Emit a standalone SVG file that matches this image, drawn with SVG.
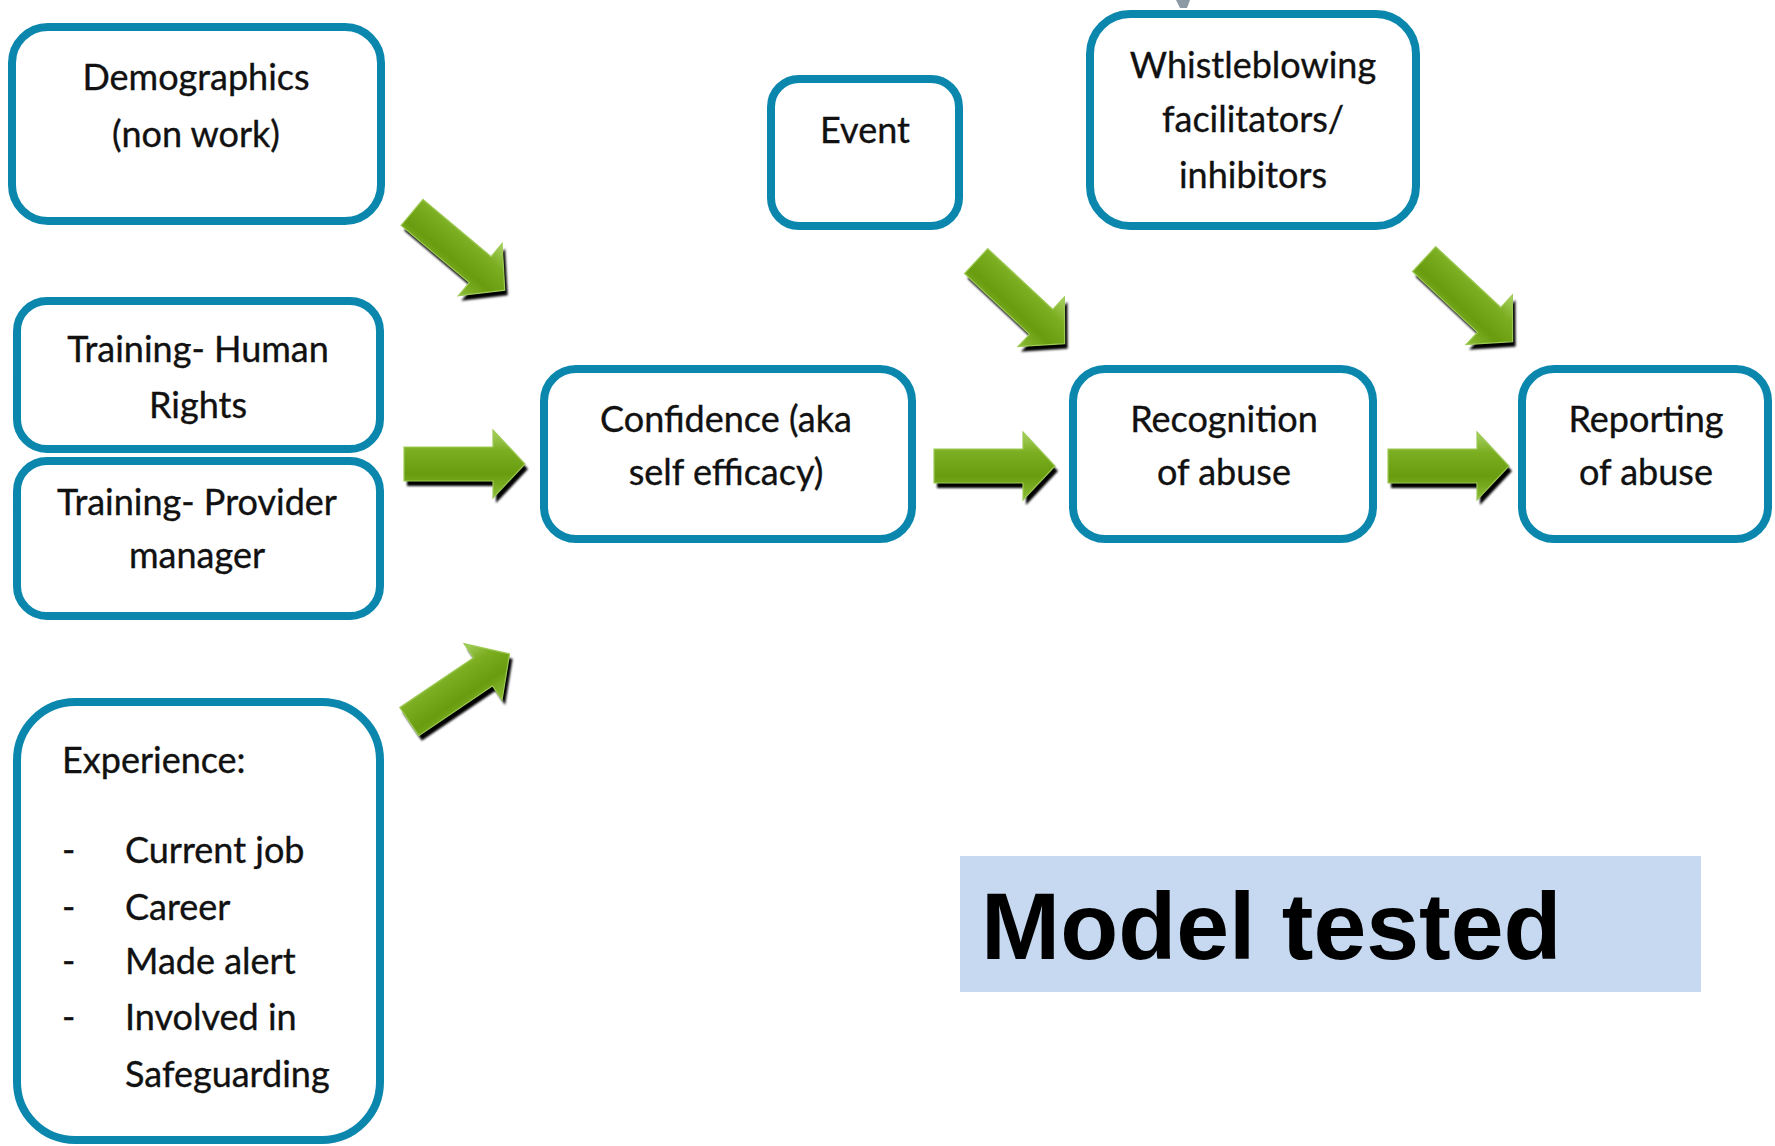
<svg xmlns="http://www.w3.org/2000/svg" xmlns:xlink="http://www.w3.org/1999/xlink" width="1775" height="1146" viewBox="0 0 1775 1146">
  <style>
    .box { fill: #ffffff; stroke: #0b87ae; stroke-width: 8; }
    .lbl { font-family: Lato, "Open Sans", sans-serif; font-size: 36px; fill: #111111; stroke: #111111; stroke-width: 0.35; text-anchor: middle; }
    .lbl-l { font-family: Lato, "Open Sans", sans-serif; font-size: 36px; fill: #111111; stroke: #111111; stroke-width: 0.35; }
    .title { font-family: "Liberation Sans", Arial, sans-serif; font-weight: bold; font-size: 95px; fill: #000000; }
  </style>
  <defs>
    <linearGradient id="greenFill" x1="0" y1="0" x2="0" y2="1">
      <stop offset="0" stop-color="#a9d263"/>
      <stop offset="0.3" stop-color="#7cae22"/>
      <stop offset="0.65" stop-color="#6a9c0f"/>
      <stop offset="1" stop-color="#8cbd38"/>
    </linearGradient>
    <filter id="soft" x="-20%" y="-20%" width="140%" height="140%">
      <feGaussianBlur stdDeviation="1"/>
    </filter>
    <!-- block arrow pointing right, centred on the origin -->
    <polygon id="blockArrow" points="-60,-17 29,-17 29,-34 61,0 29,34 29,17 -60,17"/>
  </defs>

  <rect width="1775" height="1146" fill="#ffffff"/>

  <!-- small grey mark at the top edge -->
  <path d="M1176,0 L1190,0 L1187,8 L1180,8 Z" fill="#8d9aa6"/>

  <g id="connectors">
    <!-- Demographics -> Confidence -->
    <g transform="translate(461,256) rotate(40)"><use href="#blockArrow" fill="#000" filter="url(#soft)"/></g>
    <g transform="translate(458,251) rotate(40)"><use href="#blockArrow" fill="url(#greenFill)" stroke="#9dca55" stroke-width="1.2"/></g>
    <!-- Training -> Confidence -->
    <g transform="translate(467,469)"><use href="#blockArrow" fill="#000" filter="url(#soft)"/></g>
    <g transform="translate(464,464)"><use href="#blockArrow" fill="url(#greenFill)" stroke="#9dca55" stroke-width="1.2"/></g>
    <!-- Experience -> Confidence -->
    <g transform="translate(462,693) rotate(-34)"><use href="#blockArrow" fill="#000" filter="url(#soft)"/></g>
    <g transform="translate(459,688) rotate(-34)"><use href="#blockArrow" fill="url(#greenFill)" stroke="#9dca55" stroke-width="1.2"/></g>
    <!-- Confidence -> Recognition -->
    <g transform="translate(997,471)"><use href="#blockArrow" fill="#000" filter="url(#soft)"/></g>
    <g transform="translate(994,466)"><use href="#blockArrow" fill="url(#greenFill)" stroke="#9dca55" stroke-width="1.2"/></g>
    <!-- Event -> Recognition -->
    <g transform="translate(1023,307) rotate(43)"><use href="#blockArrow" fill="#000" filter="url(#soft)"/></g>
    <g transform="translate(1020,302) rotate(43)"><use href="#blockArrow" fill="url(#greenFill)" stroke="#9dca55" stroke-width="1.2"/></g>
    <!-- Recognition -> Reporting -->
    <g transform="translate(1451,471)"><use href="#blockArrow" fill="#000" filter="url(#soft)"/></g>
    <g transform="translate(1448,466)"><use href="#blockArrow" fill="url(#greenFill)" stroke="#9dca55" stroke-width="1.2"/></g>
    <!-- Whistleblowing -> Reporting -->
    <g transform="translate(1471,305) rotate(43)"><use href="#blockArrow" fill="#000" filter="url(#soft)"/></g>
    <g transform="translate(1468,300) rotate(43)"><use href="#blockArrow" fill="url(#greenFill)" stroke="#9dca55" stroke-width="1.2"/></g>
  </g>

  <g id="demographics">
    <rect class="box" x="12" y="27" width="369" height="194" rx="36"/>
    <text class="lbl" x="196" y="90">Demographics</text>
    <text class="lbl" x="196" y="147">(non work)</text>
  </g>

  <g id="training-human-rights">
    <rect class="box" x="17" y="301" width="363" height="148" rx="30"/>
    <text class="lbl" x="198" y="362">Training- Human</text>
    <text class="lbl" x="198" y="418">Rights</text>
  </g>

  <g id="training-provider">
    <rect class="box" x="17" y="461" width="363" height="155" rx="30"/>
    <text class="lbl" x="197" y="515">Training- Provider</text>
    <text class="lbl" x="197" y="568">manager</text>
  </g>

  <g id="experience">
    <rect class="box" x="17" y="702" width="363" height="438" rx="58"/>
    <text class="lbl-l" x="62" y="773">Experience:</text>
    <text class="lbl-l" x="62" y="863">-</text>
    <text class="lbl-l" x="125" y="863">Current job</text>
    <text class="lbl-l" x="62" y="920">-</text>
    <text class="lbl-l" x="125" y="920">Career</text>
    <text class="lbl-l" x="62" y="974">-</text>
    <text class="lbl-l" x="125" y="974">Made alert</text>
    <text class="lbl-l" x="62" y="1030">-</text>
    <text class="lbl-l" x="125" y="1030">Involved in</text>
    <text class="lbl-l" x="125" y="1087">Safeguarding</text>
  </g>

  <g id="confidence">
    <rect class="box" x="544" y="369" width="368" height="170" rx="32"/>
    <text class="lbl" x="726" y="432">Confidence (aka</text>
    <text class="lbl" x="726" y="485">self efficacy)</text>
  </g>

  <g id="event">
    <rect class="box" x="771" y="79" width="188" height="147" rx="28"/>
    <text class="lbl" x="865" y="143">Event</text>
  </g>

  <g id="whistleblowing">
    <rect class="box" x="1090" y="14" width="326" height="212" rx="40"/>
    <text class="lbl" x="1253" y="78">Whistleblowing</text>
    <text class="lbl" x="1253" y="132">facilitators/</text>
    <text class="lbl" x="1253" y="188">inhibitors</text>
  </g>

  <g id="recognition">
    <rect class="box" x="1073" y="369" width="300" height="170" rx="32"/>
    <text class="lbl" x="1224" y="432">Recognition</text>
    <text class="lbl" x="1224" y="485">of abuse</text>
  </g>

  <g id="reporting">
    <rect class="box" x="1522" y="369" width="246" height="170" rx="32"/>
    <text class="lbl" x="1646" y="432">Reporting</text>
    <text class="lbl" x="1646" y="485">of abuse</text>
  </g>

  <g id="model-tested">
    <rect x="960" y="856" width="741" height="136" fill="#c6d9f0"/>
    <text class="title" x="981" y="959">Model tested</text>
  </g>
</svg>
